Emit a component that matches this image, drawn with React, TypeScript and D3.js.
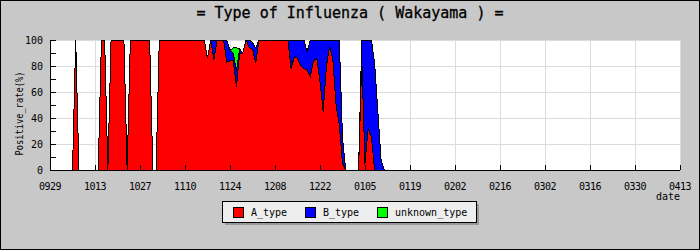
import React from "react";
import * as d3 from "d3";

// ---- data (daily, starting 2009-09-29) ----
const START = "2009-09-29";

const A_type = [
  0, 0, 0, 0, 0, 0, 0, 0, 100, 0,
  0, 0, 0, 0, 0, 0, 100, 100, 0, 100,
  100, 100, 100, 100, 0, 100, 100, 100, 100, 100,
  100, 100, 0, 0, 100, 100, 100, 100, 100, 100,
  100, 100, 100, 100, 100, 100, 100, 100, 100, 86,
  100, 85, 100, 100, 100, 83, 84, 84, 64, 90,
  90, 100, 94, 93, 82, 100, 100, 100, 100, 100,
  100, 100, 100, 100, 100, 78, 87, 86, 80, 78,
  77, 72, 84, 86, 68, 45, 80, 95, 85, 50,
  35, 5, 0, 0, 0, 0, 0, 85, 5, 32,
  25, 0, 0, 0, 0,
];

const B_type = [
  0, 0, 0, 0, 0, 0, 0, 0, 0, 0,
  0, 0, 0, 0, 0, 0, 0, 0, 0, 0,
  0, 0, 0, 0, 0, 0, 0, 0, 0, 0,
  0, 0, 0, 0, 0, 0, 0, 0, 0, 0,
  0, 0, 0, 0, 0, 0, 0, 0, 0, 0,
  0, 15, 0, 0, 0, 17, 8, 6, 12, 3,
  0, 0, 6, 5, 12, 0, 0, 0, 0, 0,
  0, 0, 0, 0, 0, 22, 13, 14, 20, 22,
  14, 28, 16, 14, 32, 55, 20, 5, 15, 50,
  65, 20, 0, 0, 0, 0, 0, 15, 95, 68,
  75, 82, 45, 8, 0,
];

const unknown_type = [
  0, 0, 0, 0, 0, 0, 0, 0, 0, 0,
  0, 0, 0, 0, 0, 0, 0, 0, 0, 0,
  0, 0, 0, 0, 0, 0, 0, 0, 0, 0,
  0, 0, 0, 0, 0, 0, 0, 0, 0, 0,
  0, 0, 0, 0, 0, 0, 0, 0, 0, 0,
  0, 0, 0, 0, 0, 0, 0, 4, 18, 0,
  0, 0, 0, 0, 0, 0, 0, 0, 0, 0,
  0, 0, 0, 0, 0, 0, 0, 0, 0, 0,
  0, 0, 0, 0, 0, 0, 0, 0, 0, 0,
  0, 0, 0, 0, 0, 0, 0, 0, 0, 0,
  0, 0, 0, 0, 0,
];

const seriesNames = ["A_type", "B_type", "unknown_type"];
const seriesColors = ["#ff0000", "#0000ff", "#00ff00"];
const xTickLabels = [
  "0929", "1013", "1027", "1110", "1124", "1208", "1222", "0105",
  "0119", "0202", "0216", "0302", "0316", "0330", "0413",
];
const yMajorTicks = [0, 20, 40, 60, 80, 100];
const yMinorTicks = [10, 30, 50, 70, 90];

const TITLE = "= Type of Influenza ( Wakayama ) =";
const Y_TITLE = "Positive_rate(%)";
const X_TITLE = "date";

const FONT = "'DejaVu Sans Mono', monospace";

export default function App() {
  const W = 700, H = 250;
  const L = 50, R = 680, T = 40, B = 170;

  const start = d3.utcParse("%Y-%m-%d")(START) as Date;
  const dates = A_type.map((_, i) => d3.utcDay.offset(start, i));
  const tickDates = xTickLabels.map((s) => {
    const m = +s.slice(0, 2), d = +s.slice(2);
    return new Date(Date.UTC(m >= 9 ? 2009 : 2010, m - 1, d));
  });

  const x = d3.scaleUtc().domain([tickDates[0], tickDates[tickDates.length - 1]]).range([L, R]);
  const y = d3.scaleLinear().domain([0, 100]).range([B, T]);

  const rows = dates.map((date, i) => ({
    date,
    A_type: A_type[i],
    B_type: B_type[i],
    unknown_type: unknown_type[i],
  }));
  const stacked = d3.stack<any>().keys(seriesNames)(rows);

  const area = d3
    .area<any>()
    .x((d) => x(d.data.date))
    .y0((d) => y(d[0]))
    .y1((d) => y(d[1]));
  const line = d3
    .line<any>()
    .x((d) => x(d.data.date))
    .y((d) => y(d[1]));

  const legendX = [233, 305, 377];

  return (
    <div style={{ position: "absolute", left: 0, top: 0 }}>
      <svg width={W} height={H} style={{ display: "block" }}>
        <rect x={0} y={0} width={W} height={H} fill="#c8c8c8" />
        <rect x={0.5} y={0.5} width={W - 1} height={H - 1} fill="none" stroke="#000" />
        <text x={350} y={18} textAnchor="middle" fontFamily={FONT} fontSize={15} fill="#000" stroke="#000" strokeWidth={0.3}>
          {TITLE}
        </text>

        {/* plot area */}
        <rect x={L} y={T} width={R - L} height={B - T} fill="#ffffff" />
        <g shapeRendering="crispEdges" stroke="#dcdcdc" strokeWidth={1}>
          {yMajorTicks.filter((v) => v > 0).map((v) => (
            <line key={"gy" + v} x1={L} x2={R} y1={Math.round(y(v)) + 0.5} y2={Math.round(y(v)) + 0.5} />
          ))}
          {tickDates.slice(1).map((t, i) => (
            <line key={"gx" + i} x1={Math.round(x(t)) + 0.5} x2={Math.round(x(t)) + 0.5} y1={T} y2={B} />
          ))}
        </g>

        {/* stacked areas */}
        <g shapeRendering="crispEdges">
          {stacked.map((s, i) => (
            <path key={"a" + i} d={area(s) || ""} fill={seriesColors[i]} stroke="none" />
          ))}
          {stacked.map((s, i) => (
            <path key={"l" + i} d={line(s) || ""} fill="none" stroke="#000" strokeWidth={1} />
          ))}
        </g>

        {/* axes */}
        <g shapeRendering="crispEdges" stroke="#000" strokeWidth={1}>
          <line x1={L + 0.5} x2={L + 0.5} y1={T} y2={B + 0.5} />
          <line x1={L} x2={R} y1={B + 0.5} y2={B + 0.5} />
          {yMajorTicks.concat(yMinorTicks).map((v) => (
            <line key={"ty" + v} x1={L} x2={L + 6} y1={Math.round(y(v)) + 0.5} y2={Math.round(y(v)) + 0.5} />
          ))}
          {tickDates.map((t, i) => (
            <line key={"tx" + i} x1={Math.round(x(t)) + 0.5} x2={Math.round(x(t)) + 0.5} y1={B - 5} y2={B} />
          ))}
        </g>

        {yMajorTicks.map((v) => (
          <text key={"yl" + v} x={43} y={y(v) + 4} textAnchor="end" fontFamily={FONT} fontSize={10} fill="#000">
            {v}
          </text>
        ))}
        {tickDates.map((t, i) => (
          <text
            key={"xl" + i}
            x={x(t)}
            y={190}
            textAnchor="middle"
            fontFamily={FONT}
            fontSize={10}
            letterSpacing={-0.5}
            fill="#000"
          >
            {xTickLabels[i]}
          </text>
        ))}
        <text x={680} y={200} textAnchor="end" fontFamily={FONT} fontSize={10} fill="#000">
          {X_TITLE}
        </text>
        <text
          transform={`translate(23,${113.5}) rotate(-90)`}
          textAnchor="middle"
          fontFamily={FONT}
          fontSize={10}
          textLength={84}
          lengthAdjust="spacingAndGlyphs"
          fill="#000"
        >
          {Y_TITLE}
        </text>

        {/* legend */}
        <g shapeRendering="crispEdges">
          <rect x={225} y={204} width={254} height={21} fill="#999999" />
          <rect x={222.5} y={201.5} width={254} height={21} fill="#eeeeee" stroke="#000" />
          {seriesNames.map((n, i) => (
            <g key={"lg" + i}>
              <rect x={legendX[i] + 0.5} y={207.5} width={10} height={10} fill={seriesColors[i]} stroke="#000" />
              <text
                x={legendX[i] + 18}
                y={216}
                fontFamily={FONT}
                fontSize={10}
                fill="#000"
                shapeRendering="auto"
              >
                {n}
              </text>
            </g>
          ))}
        </g>
      </svg>
    </div>
  );
}
